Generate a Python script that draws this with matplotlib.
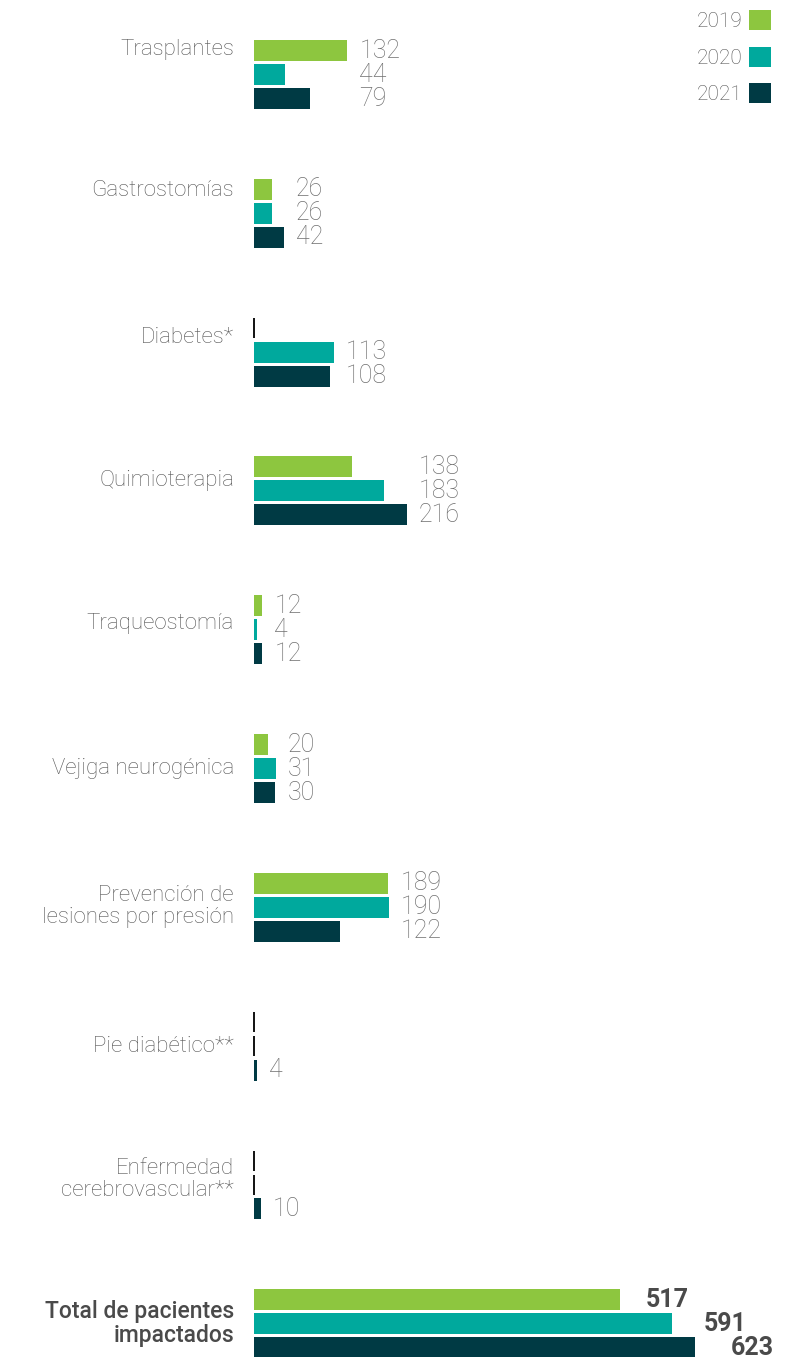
import matplotlib
matplotlib.use('Agg')
import matplotlib.pyplot as plt
from matplotlib.patches import Patch

# ---------------- data ----------------
categories = ["Trasplantes", "Gastrostomías", "Diabetes*", "Quimioterapia",
              "Traqueostomía", "Vejiga neurogénica",
              "Prevención de\nlesiones por presión", "Pie diabético**",
              "Enfermedad\ncerebrovascular**", "Total de pacientes\nimpactados"]
years = ["2019", "2020", "2021"]
v2019 = [132, 26, None, 138, 12, 20, 189, None, None, 517]
v2020 = [44, 26, 113, 183, 4, 31, 190, None, None, 591]
v2021 = [79, 42, 108, 216, 12, 30, 122, 4, 10, 623]

# ---------------- style / layout ----------------
colors = ["#8DC63F", "#00A99D", "#003A44"]
W, H, DPI = 810, 1357, 100
x0px = 254          # pixel where bars start
scale = 0.708       # pixels per unit
top = 50.5          # centre of first bar (px)
group_pitch = 138.8
bar_pitch = 24
bar_h = 21
label_shift = [-25, -23, -15, -10, -6, 0, -1, 0, -5, 0]  # category label vs middle bar (px)
FONT = ['Roboto', 'DejaVu Sans']

plt.rcParams['font.family'] = FONT

fig = plt.figure(figsize=(W / DPI, H / DPI), dpi=DPI)
ax = fig.add_axes([0, 0, 1, 1])
ax.set_xlim(-x0px / scale, (W - x0px) / scale)
ax.set_ylim(H, 0)
ax.axis('off')

series = [v2019, v2020, v2021]
n = len(categories)
for i in range(n):
    gvals = [s[i] for s in series if s[i] is not None]
    gmax = max(gvals)
    total = (i == n - 1)
    for j, s in enumerate(series):
        y = top + i * group_pitch + j * bar_pitch
        v = s[i]
        if v is None:
            ax.vlines(0, y - 10, y + 10, color='#111111', lw=1.4)
            continue
        ax.barh(y, v, height=bar_h, color=colors[j], left=0)
        if total:
            ax.text(v + (26 + 5 * j) / scale, y, str(v), ha='left', va='center',
                    fontsize=18, fontweight='bold', color='#4a4a4a')
        else:
            ax.text(gmax + 12 / scale, y, str(v), ha='left', va='center',
                    fontsize=18, fontweight='light', color='#6f6f6f')
    ymid = top + i * group_pitch + bar_pitch + label_shift[i]
    ax.annotate(categories[i], xy=(0, ymid), xytext=(-20 * 72 / DPI, 0),
                textcoords='offset points', ha='right', va='center',
                fontsize=16.5 if total else 16,
                fontweight='medium' if total else 'light',
                color='#4a4a4a' if total else '#555555',
                linespacing=1.05)

handles = [Patch(facecolor=c, edgecolor='none', label=y) for c, y in zip(colors, years)]
leg = ax.legend(handles=handles, loc='upper right', frameon=False, markerfirst=False,
                fontsize=15, handlelength=1.05, handleheight=1.1, labelspacing=0.74,
                handletextpad=0.3, borderaxespad=0, bbox_to_anchor=(779 / W, 1 - 2 / H))
for t in leg.get_texts():
    t.set_color('#555555')
    t.set_fontweight('light')

fig.savefig('out.png', dpi=DPI)
